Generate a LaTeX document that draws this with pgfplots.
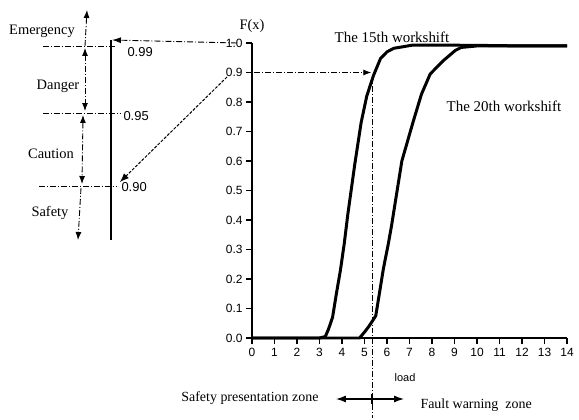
\documentclass[border=0pt]{standalone}
\usepackage{pgfplots}
\pgfplotsset{compat=1.18}
\usepackage{fontspec}
\setmainfont{Liberation Serif}
\newfontfamily\sansf{Liberation Sans}
\usetikzlibrary{arrows.meta}
\begin{document}
\begin{tikzpicture}
\useasboundingbox (0,0) rectangle (579bp,420bp);
\begin{axis}[
  at={(252bp,82bp)}, anchor=south west,
  scale only axis, width=315bp, height=295bp,
  xmin=0, xmax=14, ymin=0, ymax=1,
  axis lines*=left, axis line style={line width=2.2pt},
  xtick={0,1,2,3,4,5,6,7,8,9,10,11,12,13,14},
  ytick={0,0.1,0.2,0.3,0.4,0.5,0.6,0.7,0.8,0.9,1.0},
  tick align=outside, major tick length=6bp,
  tick style={line width=1.5pt, black},
  xtick pos=left, ytick pos=left,
  /pgf/number format/assume math mode=true,
  xticklabel style={font=\sansf\fontsize{12}{13}\selectfont, yshift=-1bp},
  yticklabel style={font=\sansf\fontsize{12}{13}\selectfont, /pgf/number format/fixed, /pgf/number format/precision=1, /pgf/number format/fixed zerofill},
  clip=false,
]
% The 15th workshift
\addplot[black, line width=3pt, line join=round] coordinates {
(0,0) (1,0) (2,0) (3,0) (3.26,0.005) (3.4,0.03) (3.58,0.07) (3.75,0.15) (3.93,0.23)
(4.1,0.32) (4.26,0.42) (4.57,0.59) (4.85,0.73) (5.1,0.82) (5.4,0.89) (5.71,0.947)
(6.0,0.97) (6.3,0.982) (7.15,0.993) (8,0.993) (10,0.992) (12,0.99) (14,0.99)};
% The 20th workshift
\addplot[black, line width=3pt, line join=round] coordinates {
(0,0) (2,0) (4,0) (4.78,0) (5.0,0.02) (5.2,0.04) (5.5,0.075) (5.66,0.15) (5.84,0.235)
(6.06,0.32) (6.2,0.38) (6.66,0.6) (7.15,0.73) (7.53,0.826) (7.92,0.895) (8.5,0.94)
(9.04,0.975) (9.3,0.985) (10,0.99) (12,0.99) (14,0.99)};
% arrows / guide lines
\draw[black, line width=0.9pt, dash pattern=on 6pt off 2pt on 1pt off 2pt, -{Latex[length=8pt,width=6pt]}]
  (axis cs:0.1,0.9) -- (axis cs:5.3,0.9);
\draw[black, line width=0.9pt, dash pattern=on 6pt off 2pt on 1pt off 2pt]
  (axis cs:5.35,0.89) -- (axis cs:5.35,-0.27);
\end{axis}
\begin{scope}[x=1bp, y=-1bp, yshift=420bp]
  \tikzset{dd/.style={black, line width=0.9pt, dash pattern=on 6pt off 2pt on 1pt off 2pt}}
  % left scale
  \draw[black, line width=1.2pt] (111,40) -- (111,240);
  \draw[dd] (43,46) -- (116,46);
  \draw[dd] (43,113) -- (120,113);
  \draw[dd] (39,186) -- (117,186);
  \node[anchor=west, font=\sansf\fontsize{13}{14}\selectfont] at (124,52) {0.99};
  \node[anchor=west, font=\sansf\fontsize{13}{14}\selectfont] at (120,116) {0.95};
  \node[anchor=west, font=\sansf\fontsize{13}{14}\selectfont] at (118,187) {0.90};
  \draw[dd, -{Latex[length=8pt,width=6pt]}] (85,46) -- (87,10);
  \draw[dd, {Latex[length=8pt,width=6pt]}-{Latex[length=8pt,width=6pt]}] (85,48) -- (85,111);
  \draw[dd, {Latex[length=8pt,width=6pt]}-{Latex[length=8pt,width=6pt]}] (83,115) -- (82,184);
  \draw[dd, -{Latex[length=8pt,width=6pt]}] (81,188) -- (78,240);
  \node[font=\fontsize{14.5}{15}\selectfont] at (42,31) {Emergency};
  \node[font=\fontsize{14.5}{15}\selectfont] at (58,86) {Danger};
  \node[font=\fontsize{14.5}{15}\selectfont] at (51,154) {Caution};
  \node[font=\fontsize{14.5}{15}\selectfont] at (50,213) {Safety};
  % arrow from 1.0 to top of left scale
  \draw[dd, -{Latex[length=9pt,width=6pt]}] (237,43) -- (112,40);
  % diagonal arrow to 0.90
  \draw[black, line width=1pt, dash pattern=on 3pt off 1.5pt, -{Latex[length=9pt,width=7pt]}] (227,77) -- (120,182);
  % labels
  \node[font=\fontsize{14.5}{15}\selectfont] at (252,26) {F(x)};
  \node[font=\fontsize{15}{16}\selectfont] at (392,37) {The 15th workshift};
  \node[font=\fontsize{15}{16}\selectfont] at (504,106) {The 20th workshift};
  \node[font=\sansf\fontsize{11}{12}\selectfont] at (405,378) {load};
  \node[anchor=east, font=\fontsize{14}{15}\selectfont] at (322,398) {Safety presentation zone};
  \node[anchor=west, font=\fontsize{14}{15}\selectfont] at (417,405) {Fault warning\ \ zone};
  \draw[black, line width=1.2pt, {Latex[length=10pt,width=7pt]}-{Latex[length=10pt,width=7pt]}] (336,399) -- (404,399);
  \draw[black, line width=1.2pt] (372,394) -- (372,404);
\end{scope}
\end{tikzpicture}
\end{document}
